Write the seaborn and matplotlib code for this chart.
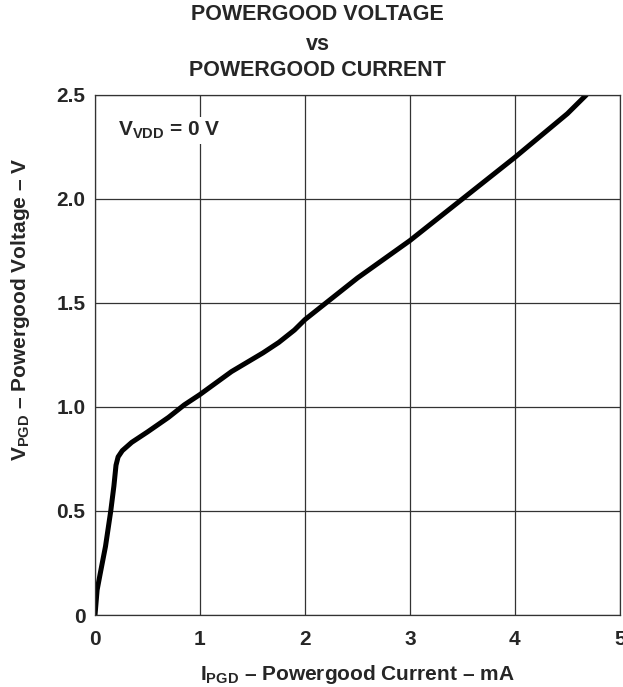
import numpy as np
import pandas as pd
import matplotlib
matplotlib.use('Agg')
import matplotlib.pyplot as plt
import seaborn as sns

# values
current_ma = [0, 0.02, 0.05, 0.10, 0.15, 0.18, 0.20, 0.22, 0.26, 0.35, 0.50, 0.70,
              0.85, 1.00, 1.30, 1.60, 1.75, 1.90, 2.00, 2.50, 3.00, 3.50, 4.00, 4.50, 4.68]
voltage_v = [0, 0.12, 0.20, 0.33, 0.50, 0.62, 0.72, 0.76, 0.79, 0.83, 0.88, 0.95,
             1.01, 1.06, 1.17, 1.26, 1.31, 1.37, 1.42, 1.62, 1.80, 2.00, 2.20, 2.41, 2.50]
x_ticks = [0, 1, 2, 3, 4, 5]
y_ticks = [0, 0.5, 1.0, 1.5, 2.0, 2.5]
y_tick_labels = ["0", "0.5", "1.0", "1.5", "2.0", "2.5"]

sns.set_style("white")
plt.rcParams['font.family'] = ['Liberation Sans', 'DejaVu Sans']
plt.rcParams['font.weight'] = 'bold'
plt.rcParams['mathtext.fontset'] = 'custom'
plt.rcParams['mathtext.rm'] = 'Liberation Sans:bold'
plt.rcParams['mathtext.bf'] = 'Liberation Sans:bold'
plt.rcParams['mathtext.it'] = 'Liberation Sans:bold'

df = pd.DataFrame({"I": current_ma, "V": voltage_v})

fig = plt.figure(figsize=(6.23, 6.87), dpi=100)
ax = fig.add_axes([0.1525, 0.1048, 0.8425, 0.757])
sns.lineplot(data=df, x="I", y="V", ax=ax, color="black", linewidth=3.6,
             sort=False, solid_capstyle="round")

ax.set_xlim(0, 5)
ax.set_ylim(0, 2.5)
ax.set_xticks(x_ticks)
ax.set_yticks(y_ticks)
ax.set_yticklabels(y_tick_labels)
ax.tick_params(axis="both", labelsize=15, length=0)
ax.tick_params(axis="x", pad=11)
ax.tick_params(axis="y", pad=7)
for lab in ax.get_xticklabels() + ax.get_yticklabels():
    lab.set_fontweight("bold")
ax.grid(True, color="#333333", linewidth=0.9)
for s in ax.spines.values():
    s.set_color("#333333")
    s.set_linewidth(0.9)

ax.set_xlabel(r"$\mathrm{I_{PGD}}$ – Powergood Current – mA", fontsize=15,
              fontweight="bold")
ax.set_ylabel(r"$\mathrm{V_{PGD}}$ – Powergood Voltage – V", fontsize=15,
              fontweight="bold")
ax.xaxis.set_label_coords(0.5, -0.092)
ax.yaxis.set_label_coords(-0.12, 0.587)

fig.text(0.51, 1 - 15 / 687, "POWERGOOD VOLTAGE", ha="center", va="center",
         fontsize=15.5, fontweight="bold")
fig.text(0.51, 1 - 44 / 687, "vs", ha="center", va="center",
         fontsize=15.5, fontweight="bold")
fig.text(0.51, 1 - 70 / 687, "POWERGOOD CURRENT", ha="center", va="center",
         fontsize=15.5, fontweight="bold")

ax.text(0.22, 2.33, r"$\mathrm{V_{VDD}}$ = 0 V", fontsize=15, fontweight="bold",
        ha="left", va="center",
        bbox=dict(facecolor="white", edgecolor="none", pad=2))

fig.savefig("out.png", dpi=100)
